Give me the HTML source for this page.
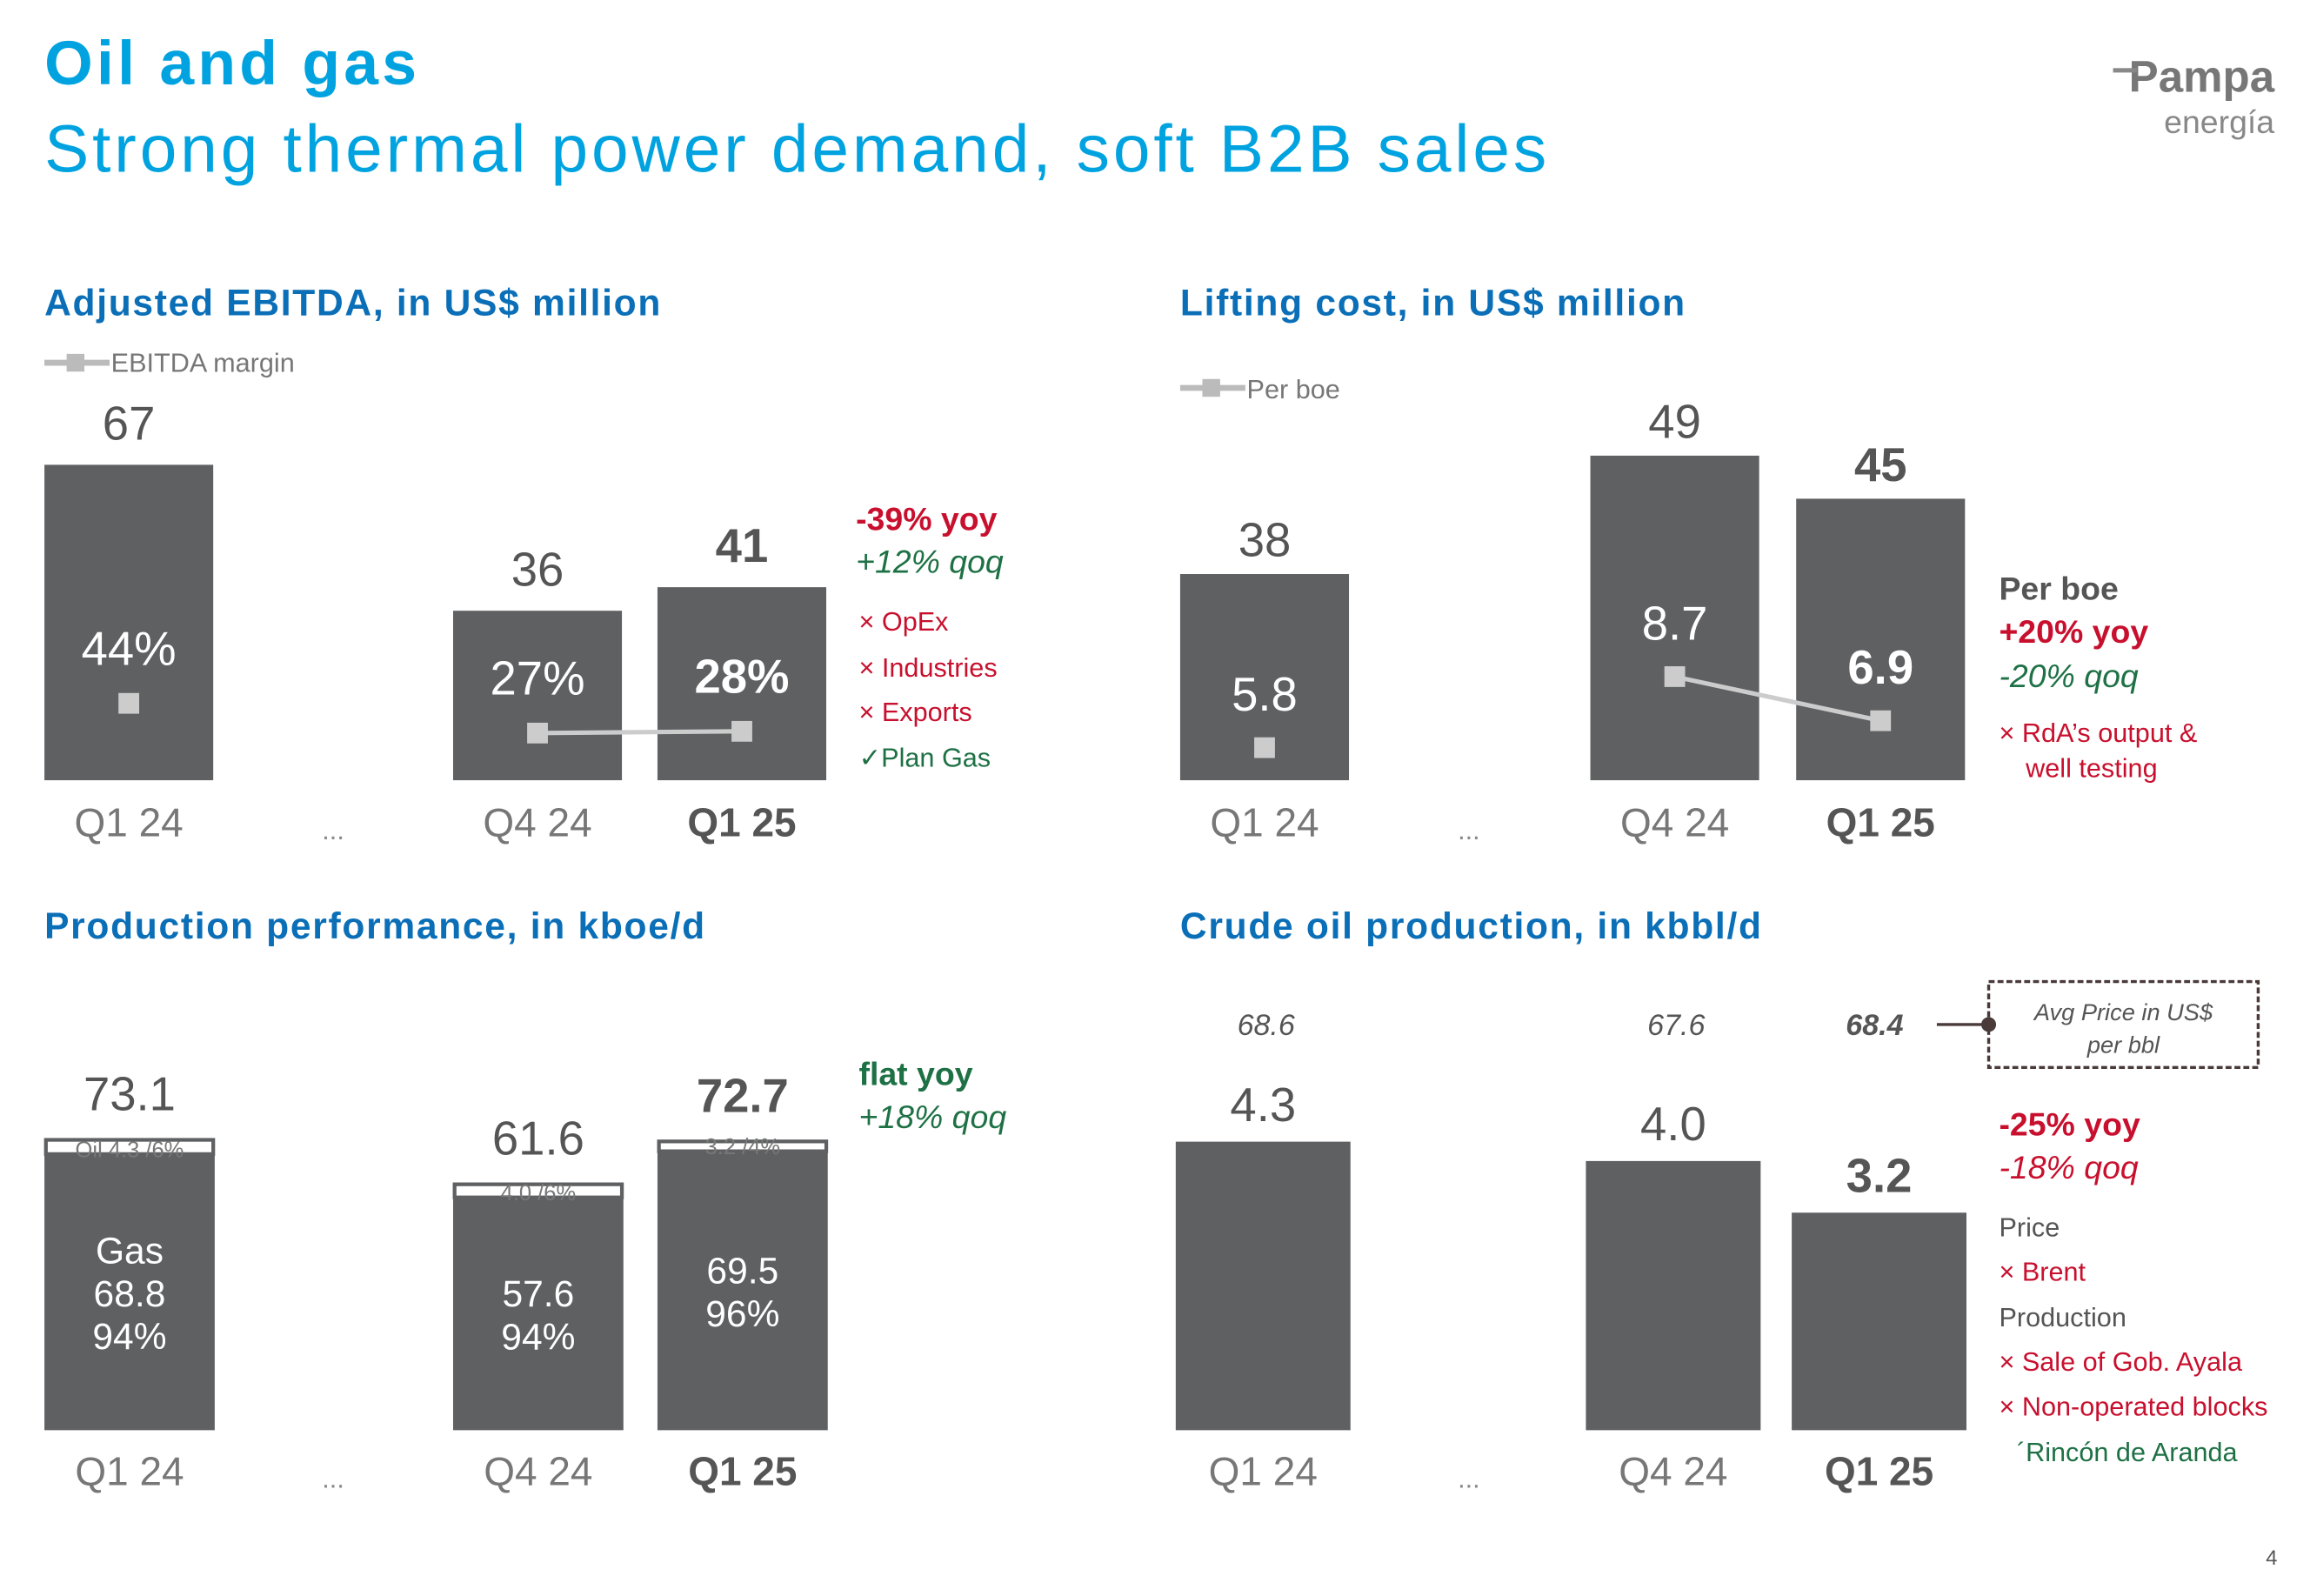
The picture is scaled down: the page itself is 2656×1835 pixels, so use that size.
<!DOCTYPE html>
<html><head><meta charset="utf-8"><style>
html,body{margin:0;padding:0;background:#fff;}
svg{display:block;font-family:"Liberation Sans","DejaVu Sans",sans-serif;}
.h{fill:#0b6fb8;font-weight:bold;font-size:25px;letter-spacing:1px}
.val{fill:#555;font-size:32px;text-anchor:middle}
.valb{fill:#555;font-size:32px;font-weight:bold;text-anchor:middle}
.in{fill:#fff;font-size:32px;text-anchor:middle}
.inb{fill:#fff;font-size:32px;font-weight:bold;text-anchor:middle}
.xl{fill:#777;font-size:27px;text-anchor:middle}
.xlb{fill:#555;font-size:27px;font-weight:bold;text-anchor:middle}
.red{fill:#c8102e}.grn{fill:#1e7145}.gry{fill:#555}
</style></head><body>
<svg id="s" width="2656" height="1835" viewBox="0 0 1560 1078" preserveAspectRatio="none" xmlns="http://www.w3.org/2000/svg">
<text x="30" y="57" fill="#00a3e0" font-size="42" font-weight="bold" letter-spacing="2.5">Oil and gas</text>
<text x="30" y="116" fill="#00a3e0" font-size="45" letter-spacing="2.3">Strong thermal power demand, soft B2B sales</text>
<g>
<text x="1536" y="62" text-anchor="end" fill="#777" font-size="30" font-weight="bold">Pampa</text>
<text x="1536" y="90" text-anchor="end" fill="#888" font-size="22">energía</text>
<rect x="1427" y="46" width="16" height="3" fill="#888"/>
</g>
<text x="1538" y="1057" text-anchor="end" fill="#555" font-size="14">4</text>

<text class="h" x="30" y="213">Adjusted EBITDA, in US$ million</text>
<g><line x1="30" y1="245" x2="74" y2="245" stroke="#bbb" stroke-width="4"/><rect x="45" y="239" width="12" height="12" fill="#bbb"/><text x="75" y="251" fill="#777" font-size="18">EBITDA margin</text></g>
<text class="h" x="797" y="213">Lifting cost, in US$ million</text>
<g><line x1="797" y1="262" x2="841" y2="262" stroke="#bbb" stroke-width="4"/><rect x="812" y="256" width="12" height="12" fill="#bbb"/><text x="842" y="269" fill="#777" font-size="18">Per boe</text></g>
<text class="h" x="30" y="634">Production performance, in kboe/d</text>
<text class="h" x="797" y="634">Crude oil production, in kbbl/d</text>

<g font-size="18">
<text x="578" y="358" class="red" font-size="22" font-weight="bold">-39% yoy</text>
<text x="578" y="387" class="grn" font-size="22" font-style="italic">+12% qoq</text>
<text x="580" y="426" class="red">× OpEx</text>
<text x="580" y="457" class="red">× Industries</text>
<text x="580" y="487" class="red">× Exports</text>
<text x="580" y="518" class="grn">✓Plan Gas</text>
</g>
<g font-size="18">
<text x="1350" y="405" class="gry" font-size="22" font-weight="bold">Per boe</text>
<text x="1350" y="434" class="red" font-size="22" font-weight="bold">+20% yoy</text>
<text x="1350" y="464" class="grn" font-size="22" font-style="italic">-20% qoq</text>
<text x="1350" y="501" class="red">× RdA’s output &amp;</text>
<text x="1368" y="525" class="red">well testing</text>
</g>
<g>
<text x="580" y="733" class="grn" font-size="22" font-weight="bold">flat yoy</text>
<text x="580" y="762" class="grn" font-size="22" font-style="italic">+18% qoq</text>
</g>
<g font-size="18">
<rect x="1343" y="663" width="182" height="58" fill="none" stroke="#4a3a3a" stroke-width="2" stroke-dasharray="4,2"/>
<text x="1434" y="689" fill="#555" font-size="16" font-style="italic" text-anchor="middle">Avg Price in US$</text>
<text x="1434" y="711" fill="#555" font-size="16" font-style="italic" text-anchor="middle">per bbl</text>
<line x1="1308" y1="692" x2="1343" y2="692" stroke="#4a3a3a" stroke-width="2"/><circle cx="1343" cy="692" r="5" fill="#4a3a3a"/>
<text x="1350" y="767" class="red" font-size="22" font-weight="bold">-25% yoy</text>
<text x="1350" y="796" class="red" font-size="22" font-style="italic">-18% qoq</text>
<text x="1350" y="835" class="gry">Price</text>
<text x="1350" y="865" class="red">× Brent</text>
<text x="1350" y="896" class="gry">Production</text>
<text x="1350" y="926" class="red">× Sale of Gob. Ayala</text>
<text x="1350" y="956" class="red">× Non-operated blocks</text>
<text x="1362" y="987" class="grn">´Rincón de Aranda</text>
</g>
<g id="charts"></g>
</svg>
<script>
// shared
const quarters = ["Q1 24","Q4 24","Q1 25"];
// EBITDA
const ebitdaValues = [67, 36, 41];
const ebitdaMargin = [44, 27, 28];
// Lifting cost
const liftingValues = [38, 49, 45];
const liftingPerBoe = [5.8, 8.7, 6.9];
// Production
const prodGas = [68.8, 57.6, 69.5];
const prodOil = [4.3, 4.0, 3.2];
const prodTotal = [73.1, 61.6, 72.7];
const prodGasPct = ["94%","94%","96%"];
const prodOilPct = ["6%","6%","4%"];
// Crude
const crudeValues = [4.3, 4.0, 3.2];
const crudePrice = [68.6, 67.6, 68.4];

const NS="http://www.w3.org/2000/svg";
const G=document.getElementById('charts');
function mk(tag,at,txt){const e=document.createElementNS(NS,tag);for(const k in at)e.setAttribute(k,at[k]);if(txt!==undefined)e.textContent=txt;G.appendChild(e);return e;}

function axisLabels(xs,y,dotsX){
  quarters.forEach((q,i)=>{const t=mk('text',{x:xs[i],y:y,class:i==2?'xlb':'xl'},q);
  
  });
  const d=mk('text',{x:dotsX,y:y+2,fill:'#888','font-size':18,'text-anchor':'middle'},'...');
  
  
}
function bar(x,w,top,bottom,name){const r=mk('rect',{x:x,y:top,width:w,height:bottom-top,fill:'#5f6062'});
  
  return r;}

// Chart 1
(function(){
  const xs=[30,306,444],w=114,B=527;
  const yV=v=>B-3.18*v, yM=m=>B-1.18*m;
  const pts=[];
  ebitdaValues.forEach((v,i)=>{
    bar(xs[i],w,yV(v),B,'ebitda-bar-'+i);
    const t=mk('text',{x:xs[i]+w/2,y:yV(v)-17,class:i==2?'valb':'val'},String(v));
    
    
    const my=yM(ebitdaMargin[i]);
    const l=mk('text',{x:xs[i]+w/2,y:my-26,class:i==2?'inb':'in'},ebitdaMargin[i]+'%');
    
    
    pts.push([xs[i]+w/2,my]);
  });
  const ln=mk('line',{x1:pts[1][0],y1:pts[1][1],x2:pts[2][0],y2:pts[2][1],stroke:'#ccc','stroke-width':3});
  
  
  pts.forEach(p=>{const r=mk('rect',{x:p[0]-7,y:p[1]-7,width:14,height:14,fill:'#ccc'});
    
    });
  axisLabels(xs.map(x=>x+w/2),565,225);
})();

// Chart 2
(function(){
  const xs=[797,1074,1213],w=114,B=527;
  const yV=v=>B-(7.27*v-137), yP=p=>B-(16.55*p-74);
  const pts=[];
  liftingValues.forEach((v,i)=>{
    bar(xs[i],w,yV(v),B,'lifting-bar-'+i);
    const t=mk('text',{x:xs[i]+w/2,y:yV(v)-12,class:i==2?'valb':'val'},String(v));
    
    
    const py=yP(liftingPerBoe[i]);
    const l=mk('text',{x:xs[i]+w/2,y:py-25,class:i==2?'inb':'in'},liftingPerBoe[i].toFixed(1));
    
    
    pts.push([xs[i]+w/2,py]);
  });
  const ln=mk('line',{x1:pts[1][0],y1:pts[1][1],x2:pts[2][0],y2:pts[2][1],stroke:'#ccc','stroke-width':3});
  
  
  pts.forEach(p=>{const r=mk('rect',{x:p[0]-7,y:p[1]-7,width:14,height:14,fill:'#ccc'});
    
    });
  axisLabels(xs.map(x=>x+w/2),565,992);
})();

// Chart 3
(function(){
  const xs=[30,306,444],w=115,B=966;
  const h=v=>2.61*v+6.3;
  prodTotal.forEach((tot,i)=>{
    const H=h(tot), top=B-H, oilH=Math.max(8,H*prodOil[i]/tot);
    bar(xs[i],w,top+oilH,B,'production-gas-bar-'+i);
    const o=mk('rect',{x:xs[i]+1,y:top+1,width:w-2,height:oilH-2,fill:'#fff',stroke:'#5f6062','stroke-width':2.5});
    
    
    const ot=mk('text',{x:xs[i]+w/2,y:top+oilH+1,fill:'#777','font-size':15,'text-anchor':'middle'},(i==0?'Oil ':'')+prodOil[i].toFixed(1)+' /'+prodOilPct[i]);
    
    
    const t=mk('text',{x:xs[i]+w/2,y:top-19,class:i==2?'valb':'val'},tot.toFixed(1));
    
    
    const mid=(top+oilH+B)/2;
    const lines=(i==0?['Gas']:[]).concat([prodGas[i].toFixed(1),prodGasPct[i]]);
    lines.forEach((s,j)=>{const g=mk('text',{x:xs[i]+w/2,y:mid-(lines.length-1)*14.5+j*29+9,fill:'#fff','font-size':25,'text-anchor':'middle'},s);
      
      });
  });
  axisLabels(xs.map(x=>x+w/2),1003,225);
})();

// Chart 4
(function(){
  const xs=[794,1071,1210],w=118,B=966;
  const h=v=>43.6*v+7.4;
  crudeValues.forEach((v,i)=>{
    const top=B-h(v);
    bar(xs[i],w,top,B,'crude-bar-'+i);
    const t=mk('text',{x:xs[i]+w/2,y:top-14,class:i==2?'valb':'val'},v.toFixed(1));
    
    
    const p=mk('text',{x:xs[i]+w/2+(i==2?-3:2),y:699,fill:'#555','font-size':20,'font-style':'italic','font-weight':i==2?'bold':'normal','text-anchor':'middle'},crudePrice[i].toFixed(1));
    
    
  });
  axisLabels(xs.map(x=>x+w/2),1003,992);
})();
</script>
</body></html>
